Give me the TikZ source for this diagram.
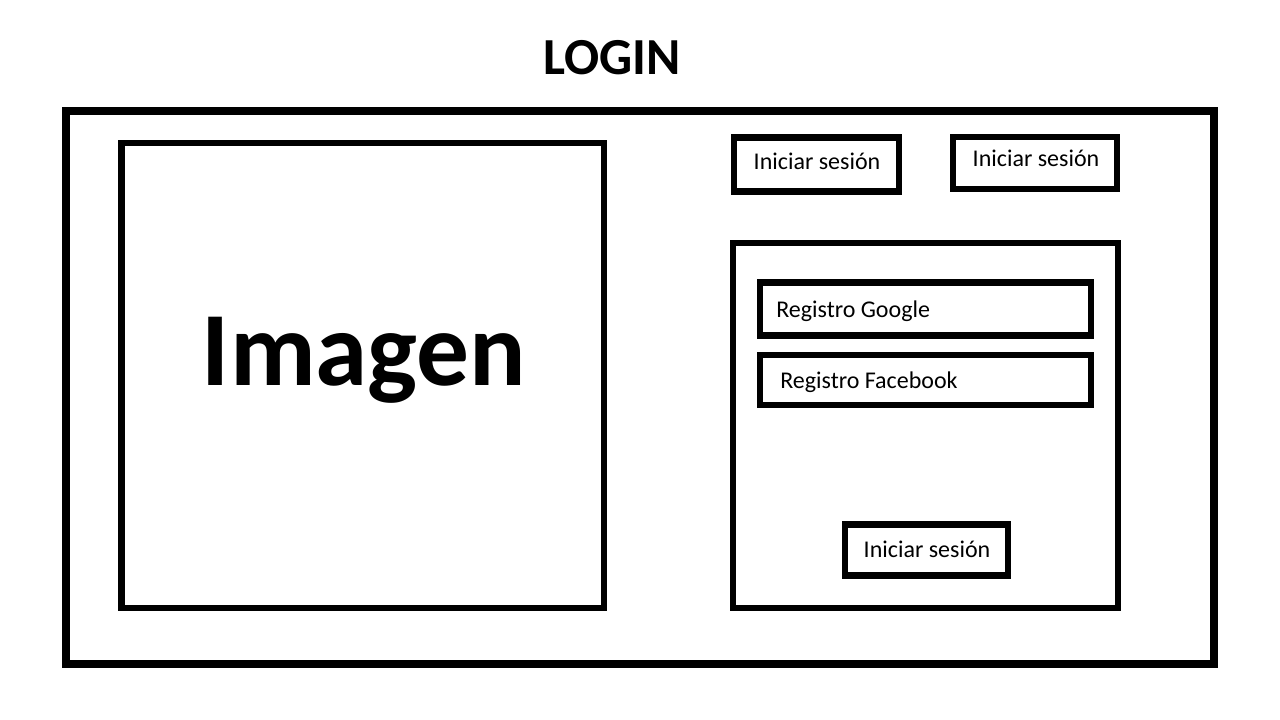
\documentclass[tikz,border=0pt]{standalone}
\usepackage{fontspec}
\setmainfont{Carlito}
\usetikzlibrary{positioning}
\tikzset{
  frame/.style={draw, line width=6pt, inner sep=0pt},
  box/.style={draw, line width=5pt, inner sep=0pt},
  btntext/.style={font=\fontsize{18}{22}\selectfont, inner sep=0pt, anchor=base},
}
\begin{document}
\begin{tikzpicture}[x=0.75pt,y=-0.75pt]
  \useasboundingbox (0,0) rectangle (1280,720);
  % title and outer frame
  \node (login) [font=\fontsize{39}{47}\selectfont\bfseries, inner sep=0pt, anchor=base] at (612,75) {LOGIN};
  \node (screen) [frame, minimum width=861pt, minimum height=414.75pt] at (640,387.5) {};
  % left side
  \node (imagebox) [box, minimum width=361.9pt, minimum height=348.75pt] at (362.75,375.5) {};
  \node (imagen) [font=\fontsize{79}{94}\selectfont\bfseries, inner sep=0pt, anchor=base] at (364,385) {Imagen};
  % top buttons
  \node (btnone) [box, minimum width=123.75pt, minimum height=40.5pt] at (816.5,164.5) {};
  \node (btnonetext) [btntext] at (817,170) {Iniciar sesión};
  \node (btntwo) [box, minimum width=123pt, minimum height=39pt] at (1035,163) {};
  \node (btntwotext) [btntext] at (1036,167) {Iniciar sesión};
  % register panel
  \node (panel) [box, minimum width=288.75pt, minimum height=273.75pt] at (925.5,425.5) {};
  \node (google) [box, minimum width=248.25pt, minimum height=39.4pt] at (925.5,309) {};
  \node (googletext) [btntext, anchor=base west] at (776,317) {Registro Google};
  \node (facebook) [box, minimum width=248.25pt, minimum height=37.5pt] at (925.5,380) {};
  \node (facebooktext) [btntext, anchor=base west] at (780,388) {Registro Facebook};
  \node (btnthree) [box, minimum width=122.25pt, minimum height=38.6pt] at (926.5,550) {};
  \node (btnthreetext) [btntext] at (927,557) {Iniciar sesión};
\end{tikzpicture}
\end{document}
